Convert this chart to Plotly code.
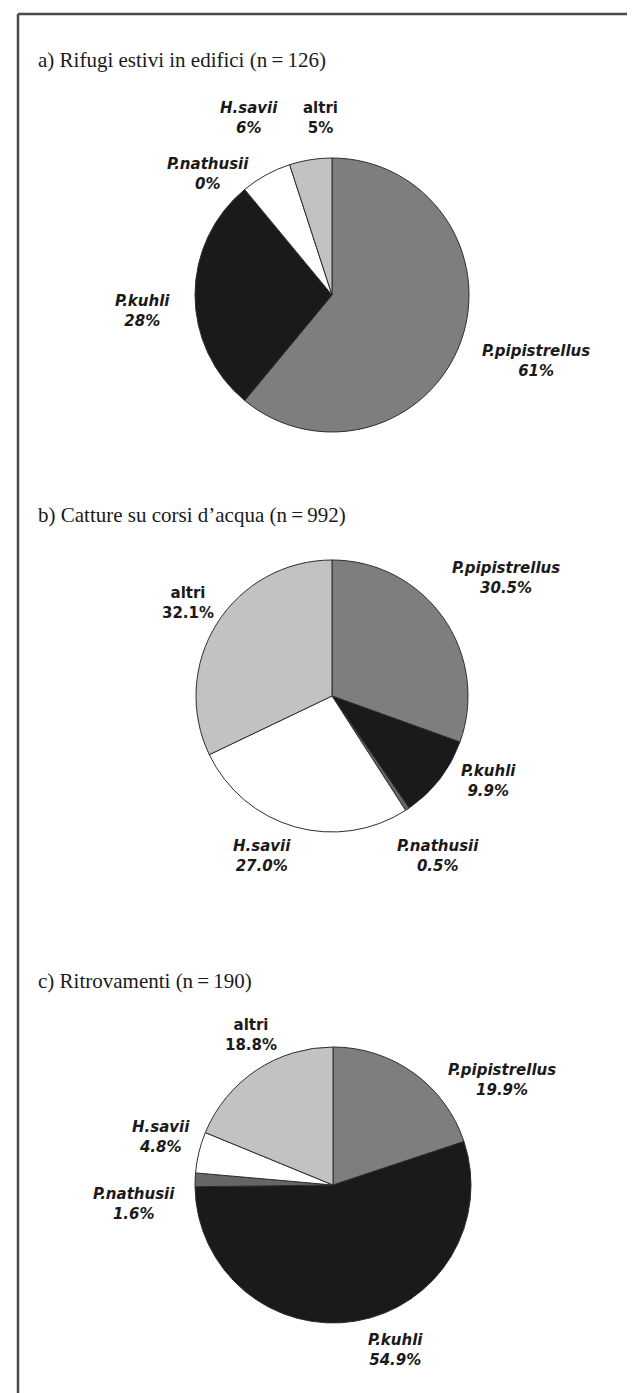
import plotly.graph_objects as go

W, H = 635, 1393

species = ["P.pipistrellus", "P.kuhli", "P.nathusii", "H.savii", "altri"]
values_a = [61, 28, 0, 6, 5]
values_b = [30.5, 9.9, 0.5, 27.0, 32.1]
values_c = [19.9, 54.9, 1.6, 4.8, 18.8]
titles = [
    "a) Rifugi estivi in edifici (n\u2009=\u2009126)",
    "b) Catture su corsi d\u2019acqua (n\u2009=\u2009992)",
    "c) Ritrovamenti (n\u2009=\u2009190)",
]

# ---- styling / layout (not data) ----
colors = ["#7e7e7e", "#1a1a1a", "#666666", "#ffffff", "#c2c2c2"]
italic = [True, True, True, True, False]
pie_geom = [(324, 287, 137), (324, 688, 136), (325, 1177, 138)]  # cx, cy, r in px
title_pos = [(28, 52), (28, 507), (28, 973)]
label_pos = [
    [(528, 352.5), (134, 303), (200, 165.5), (241, 110), (312, 110)],
    [(498, 570), (480, 772.5), (430, 848), (254, 848), (180, 595)],
    [(494, 1071.5), (387, 1341.5), (126, 1196), (153, 1129), (243, 1026.5)],
]
fmts = ["{:.0f}%", "{:.1f}%", "{:.1f}%"]

fig = go.Figure()
annotations = []
all_values = [values_a, values_b, values_c]

for i, vals in enumerate(all_values):
    cx, cy, r = pie_geom[i]
    fig.add_trace(go.Pie(
        labels=species,
        values=vals,
        sort=False,
        direction="clockwise",
        rotation=0,
        marker=dict(colors=colors, line=dict(color="#2e2e2e", width=1)),
        textinfo="none",
        hoverinfo="label+percent",
        showlegend=False,
        domain=dict(x=[(cx - r) / W, (cx + r) / W],
                    y=[1 - (cy + r) / H, 1 - (cy - r) / H]),
    ))
    tx, ty = title_pos[i]
    annotations.append(dict(
        text=titles[i], x=tx / W, y=1 - ty / H, xref="paper", yref="paper",
        xanchor="left", yanchor="middle", showarrow=False,
        font=dict(family="Liberation Serif", size=21, color="#1a1a1a"),
    ))
    for j, name in enumerate(species):
        lx, ly = label_pos[i][j]
        txt = f"<b>{name}<br>{fmts[i].format(vals[j])}</b>"
        if italic[j]:
            txt = f"<i>{txt}</i>"
        annotations.append(dict(
            text=txt, x=lx / W, y=1 - ly / H, xref="paper", yref="paper",
            xanchor="center", yanchor="middle", showarrow=False, align="center",
            font=dict(family="DejaVu Sans", size=15, color="#1a1a1a"),
        ))

shapes = [
    dict(type="line", xref="paper", yref="paper", x0=10 / W, x1=1, y0=1 - 6 / H, y1=1 - 6 / H,
         line=dict(color="#4a4a4a", width=2.5)),
    dict(type="line", xref="paper", yref="paper", x0=10 / W, x1=10 / W, y0=0, y1=1 - 6 / H,
         line=dict(color="#4a4a4a", width=2.5)),
    dict(type="line", xref="paper", yref="paper", x0=633 / W, x1=633 / W, y0=0, y1=1 - 6 / H,
         line=dict(color="#c8c8c8", width=1)),
]

fig.update_layout(
    width=W, height=H,
    margin=dict(l=0, r=0, t=0, b=0),
    paper_bgcolor="white", plot_bgcolor="white",
    annotations=annotations, shapes=shapes,
)

fig.write_html("out.html")
